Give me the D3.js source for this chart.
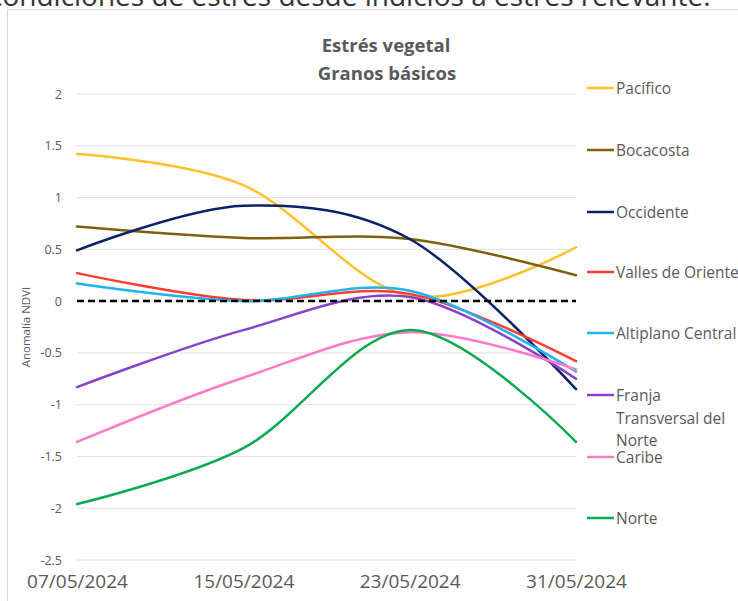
<!DOCTYPE html>
<html>
<head>
<meta charset="utf-8">
<script src="https://cdn.jsdelivr.net/npm/d3@7"></script>
<style>
  body { margin: 0; background: #fff; overflow: hidden; }
  text { font-family: "Open Sans", sans-serif; }
</style>
</head>
<body>
<script>
const width = 738;
const height = 601;

// data
const dates = ["07/05/2024", "15/05/2024", "23/05/2024", "31/05/2024"];
const yTicks = [2, 1.5, 1, 0.5, 0, -0.5, -1, -1.5, -2, -2.5];
const pacifico   = [1.42, 1.12, 0.05, 0.52];
const bocacosta  = [0.72, 0.61, 0.60, 0.25];
const occidente  = [0.49, 0.92, 0.60, -0.85];
const valles     = [0.27, 0.01, 0.07, -0.58];
const altiplano  = [0.17, 0.00, 0.10, -0.68];
const franja     = [-0.83, -0.28, 0.04, -0.75];
const caribe     = [-1.36, -0.74, -0.30, -0.66];
const norte      = [-1.96, -1.42, -0.28, -1.36];
const zeroLine   = [0, 0, 0, 0];

const series = [
  {name: ["Pacífico"], values: pacifico, color: "#FFC02A"},
  {name: ["Bocacosta"], values: bocacosta, color: "#7F6010"},
  {name: ["Occidente"], values: occidente, color: "#0A2266"},
  {name: ["Valles de Oriente"], values: valles, color: "#FF3C30"},
  {name: ["Altiplano Central"], values: altiplano, color: "#1EB4EE"},
  {name: ["Franja", "Transversal del", "Norte"], values: franja, color: "#8741CC"},
  {name: ["Caribe"], values: caribe, color: "#FF7ACB"},
  {name: ["Norte"], values: norte, color: "#08AA4E"}
];

const svg = d3.select("body").append("svg")
  .attr("width", width)
  .attr("height", height);

// text cut at the top of the page
svg.append("text")
  .text("condiciones de estrés desde indicios a estrés relevante.")
  .attr("x", -11)
  .attr("y", 6)
  .attr("font-size", 28)
  .attr("fill", "#333");

// chart frame
svg.append("rect")
  .attr("x", 7.5)
  .attr("y", 9.5)
  .attr("width", 760)
  .attr("height", 620)
  .attr("fill", "#fff")
  .attr("stroke", "#d9d9d9");

const x = d3.scalePoint()
  .domain(dates)
  .range([77, 576]);

const y = d3.scaleLinear()
  .domain([-2.5, 2])
  .range([560, 94]);

// gridlines
svg.append("g")
  .selectAll("line")
  .data(yTicks)
  .enter().append("line")
    .attr("x1", 77)
    .attr("x2", 576)
    .attr("y1", d => y(d))
    .attr("y2", d => y(d))
    .attr("stroke", "#e0e0e0")
    .attr("stroke-width", 1);

// y axis
const yAxis = svg.append("g")
  .attr("transform", "translate(66,0)")
  .call(d3.axisLeft(y).tickValues(yTicks).tickSize(0).tickPadding(4).tickFormat(d => String(d)));
yAxis.select(".domain").remove();
yAxis.selectAll("text")
  .attr("font-family", "Open Sans")
  .attr("font-size", 12.5)
  .attr("fill", "#595959");

// x axis
const xAxis = svg.append("g")
  .attr("transform", "translate(0,575)")
  .call(d3.axisBottom(x).tickSize(0).tickPadding(0));
xAxis.select(".domain").remove();
xAxis.selectAll("text")
  .attr("font-family", "Open Sans")
  .attr("font-size", 19)
  .attr("fill", "#595959")
  .attr("dy", "0.7em");

svg.append("text")
  .text("Anomalía NDVI")
  .attr("transform", "translate(30,327) rotate(-90)")
  .attr("text-anchor", "middle")
  .attr("font-size", 11.5)
  .attr("fill", "#595959");

// titles
svg.append("text")
  .text("Estrés vegetal")
  .attr("x", 386)
  .attr("y", 52)
  .attr("text-anchor", "middle")
  .attr("font-family", "Lato")
  .attr("font-weight", "bold")
  .attr("font-size", 18.5)
  .attr("fill", "#595959");
svg.append("text")
  .text("Granos básicos")
  .attr("x", 387)
  .attr("y", 80)
  .attr("text-anchor", "middle")
  .attr("font-family", "Lato")
  .attr("font-weight", "bold")
  .attr("font-size", 18.5)
  .attr("fill", "#595959");

const line = d3.line()
  .x((d, i) => x(dates[i]))
  .y(d => y(d))
  .curve(d3.curveCatmullRom.alpha(0));

svg.append("g")
  .selectAll("path")
  .data(series)
  .enter().append("path")
    .attr("d", d => line(d.values))
    .attr("fill", "none")
    .attr("stroke", d => d.color)
    .attr("stroke-width", 2.5)
    .attr("stroke-linecap", "round");

svg.append("path")
  .attr("d", d3.line().x((d, i) => x(dates[i])).y(d => y(d))(zeroLine))
  .attr("fill", "none")
  .attr("stroke", "#000")
  .attr("stroke-width", 2.5)
  .attr("stroke-dasharray", "7,4");

// legend
const legendY = [88, 150, 212, 272, 333, 395, 457, 518];
const legend = svg.append("g")
  .selectAll("g")
  .data(series)
  .enter().append("g")
    .attr("transform", (d, i) => `translate(587,${legendY[i]})`);

legend.append("line")
  .attr("x1", 0)
  .attr("x2", 27)
  .attr("stroke", d => d.color)
  .attr("stroke-width", 2.5);

legend.append("text")
  .attr("x", 29)
  .attr("y", 0)
  .attr("font-size", 15.5)
  .attr("fill", "#595959")
  .selectAll("tspan")
  .data(d => d.name)
  .enter().append("tspan")
    .attr("x", 29)
    .attr("dy", (d, i) => i === 0 ? "0.4em" : "1.45em")
    .text(d => d);
</script>
</body>
</html>
